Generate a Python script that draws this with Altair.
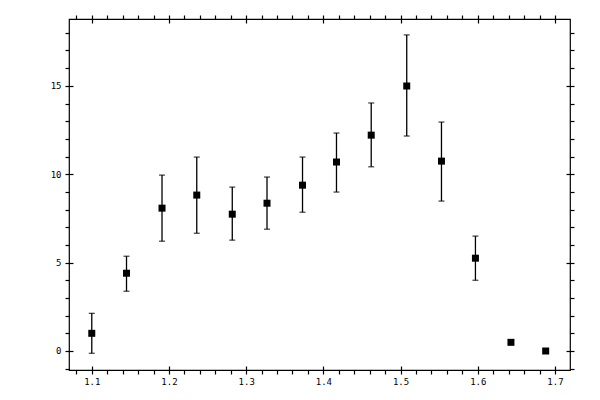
import altair as alt
import pandas as pd

x_vals = [1.100, 1.145, 1.191, 1.236, 1.282, 1.327, 1.373, 1.417, 1.462, 1.508, 1.553, 1.597, 1.643, 1.688]
y_vals = [1.00, 4.40, 8.08, 8.82, 7.74, 8.36, 9.38, 10.69, 12.21, 14.99, 10.74, 5.25, 0.49, 0.0]
lo_vals = [-0.13, 3.38, 6.21, 6.66, 6.27, 6.89, 7.85, 8.99, 10.42, 12.16, 8.48, 4.00, None, None]
hi_vals = [2.13, 5.36, 9.95, 10.97, 9.27, 9.84, 10.97, 12.33, 14.03, 17.88, 12.95, 6.50, None, None]

x_major = [1.1, 1.2, 1.3, 1.4, 1.5, 1.6, 1.7]
x_minor = [1.08, 1.12, 1.14, 1.16, 1.18, 1.22, 1.24, 1.26, 1.28, 1.32, 1.34, 1.36, 1.38,
           1.42, 1.44, 1.46, 1.48, 1.52, 1.54, 1.56, 1.58, 1.62, 1.64, 1.66, 1.68]
y_major = [0, 5, 10, 15]
y_minor = [-1, 1, 2, 3, 4, 6, 7, 8, 9, 11, 12, 13, 14, 16, 17, 18]

x_domain = [1.0705, 1.7195]
y_domain = [-1.075, 18.78]

df = pd.DataFrame({"x": x_vals, "y": y_vals, "lo": lo_vals, "hi": hi_vals})

FONT = "DejaVu Sans Mono"
xs = alt.Scale(domain=x_domain, nice=False, zero=False)
ys = alt.Scale(domain=y_domain, nice=False, zero=False)


def major_axis(orient, values, labels, pad):
    kw = dict(orient=orient, values=values, domain=False, grid=False, title=None,
              tickSize=8, offset=-4, tickColor="black", tickWidth=1.2,
              labels=labels, labelFont=FONT, labelFontSize=9, labelColor="black",
              labelPadding=pad, format=".1f" if orient in ("bottom", "top") else "d")
    return alt.Axis(**kw)


def minor_axis(orient, values):
    return alt.Axis(orient=orient, values=values, domain=False, grid=False, title=None,
                    tickSize=4, tickColor="black", tickWidth=1.2, labels=False)


base = alt.Chart(df)
valid = "isValid(datum.lo)"

bars = base.transform_filter(valid).mark_rule(color="black", strokeWidth=1.3).encode(
    x=alt.X("x:Q", scale=xs, axis=major_axis("bottom", x_major, True, 3)),
    y=alt.Y("lo:Q", scale=ys, axis=major_axis("left", y_major, True, 4)),
    y2="hi:Q",
)

cap_top = base.transform_filter(valid).mark_tick(
    color="black", orient="horizontal", size=6, thickness=1.3).encode(
    x=alt.X("x:Q", scale=xs, axis=minor_axis("bottom", x_minor)),
    y=alt.Y("hi:Q", scale=ys, axis=minor_axis("left", y_minor)),
)

cap_bot = base.transform_filter(valid).mark_tick(
    color="black", orient="horizontal", size=6, thickness=1.3).encode(
    x=alt.X("x:Q", scale=xs, axis=major_axis("top", x_major, False, 3)),
    y=alt.Y("lo:Q", scale=ys, axis=major_axis("right", y_major, False, 4)),
)

points = base.mark_square(color="black", size=49, opacity=1).encode(
    x=alt.X("x:Q", scale=xs, axis=minor_axis("top", x_minor)),
    y=alt.Y("y:Q", scale=ys, axis=minor_axis("right", y_minor)),
)

chart = alt.layer(bars, cap_top, cap_bot, points).resolve_axis(
    x="independent", y="independent"
).properties(
    width=501, height=351,
    autosize=alt.AutoSizeParams(type="none"),
    padding={"left": 61, "top": 11, "right": 20, "bottom": 25},
    background="white",
).configure_view(stroke="black", strokeWidth=1.2)

chart.save("out.html", embed_options={"renderer": "svg", "actions": False})
